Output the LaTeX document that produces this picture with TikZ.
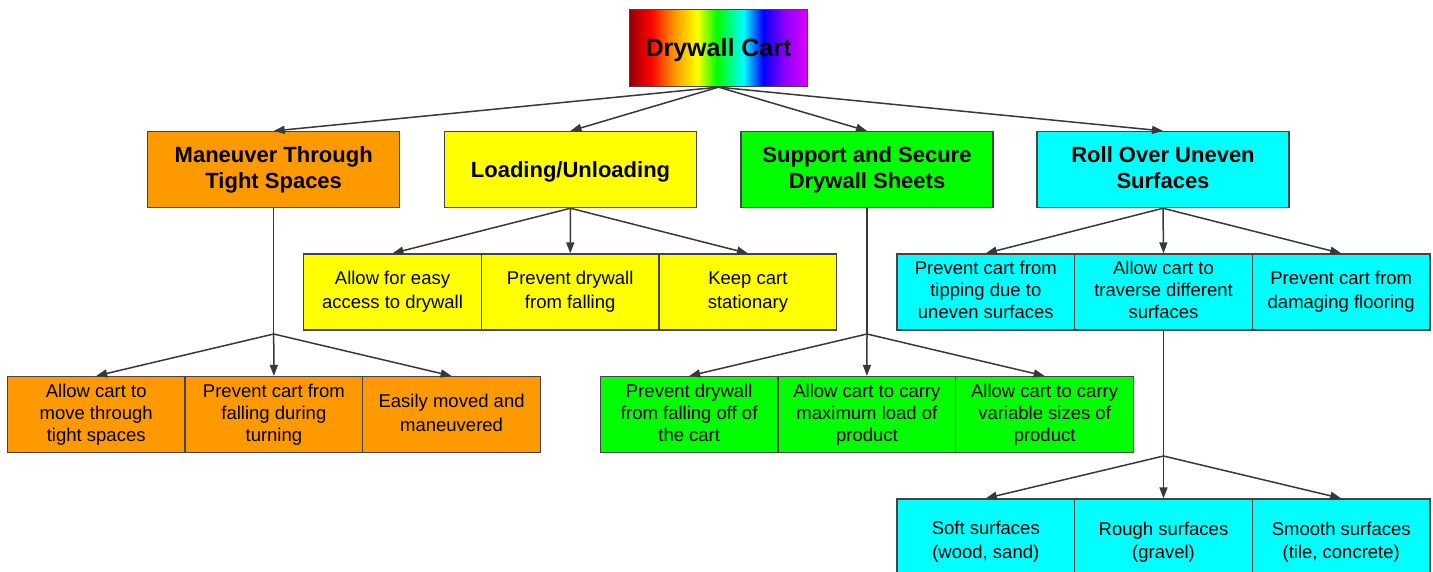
\documentclass[tikz,border=0pt]{standalone}
\usepackage{fontspec}
\setmainfont{Liberation Sans}
\usetikzlibrary{arrows.meta}
\definecolor{corange}{HTML}{FF9900}
\definecolor{cyellow}{HTML}{FFFF00}
\definecolor{cgreen}{HTML}{00FF00}
\definecolor{ccyan}{HTML}{00FFFF}
\definecolor{bordergray}{HTML}{444444}
\definecolor{linegray}{HTML}{383838}
\definecolor{rbdark}{RGB}{150,0,0}
\definecolor{rbred}{RGB}{255,0,0}
\definecolor{rborange}{RGB}{255,150,0}
\definecolor{rbyellow}{RGB}{255,255,0}
\definecolor{rbgreen}{RGB}{0,255,0}
\definecolor{rbcyan}{RGB}{0,255,255}
\definecolor{rbblue}{RGB}{0,0,255}
\definecolor{rbviolet}{RGB}{140,0,255}
\definecolor{rbmagenta}{RGB}{220,0,255}
\pgfdeclarehorizontalshading{rainbowsh}{100bp}{color(0bp)=(rbdark); color(25bp)=(rbdark); color(31bp)=(rbred); color(37.5bp)=(rborange); color(44bp)=(rbyellow); color(49.5bp)=(rbgreen); color(57bp)=(rbcyan); color(62.5bp)=(rbblue); color(68.5bp)=(rbviolet); color(75bp)=(rbmagenta); color(100bp)=(rbmagenta)}
\tikzset{
  box/.style={draw=bordergray, line width=1.3pt, minimum height=76pt, inner sep=0pt, align=center, text=black},
  struts/.style 2 args={execute at begin node={\vrule width 0pt height #1 depth 0pt},
    execute at end node={\vrule width 0pt height 0pt depth #2}},
  topbox/.style={box, minimum width=178pt, minimum height=77pt, shading=rainbowsh,
    font=\fontsize{25}{30}\selectfont\bfseries, struts={22.63pt}{5.3pt}},
  lone/.style={box, minimum width=252pt, font=\fontsize{22}{26}\selectfont\bfseries, struts={19.91pt}{4.66pt}},
  ltwo/.style={box, minimum width=177.7pt, font=\fontsize{18.5}{23.5}\selectfont, struts={16.74pt}{3.92pt}},
  lthree/.style={ltwo, font=\fontsize{18.5}{22}\selectfont},
  link/.style={draw=linegray, line width=1.5pt},
  conn/.style={link, -{Triangle[length=11pt,width=8pt]}}
}
\begin{document}
\begin{tikzpicture}[x=1pt,y=-1pt]
\useasboundingbox (0,0) rectangle (1433,571);
% root
\node[topbox] (root) at (718.5,48) {Drywall Cart};
% level 1
\node[lone, fill=corange] (man) at (273.7,169.6) {Maneuver Through\\Tight Spaces};
\node[lone, fill=cyellow] (load) at (570.5,169.6) {Loading/Unloading};
\node[lone, fill=cgreen] (sup) at (867,169.6) {Support and Secure\\Drywall Sheets};
\node[lone, fill=ccyan] (roll) at (1163,169.6) {Roll Over Uneven\\Surfaces};
% yellow children
\node[ltwo, fill=cyellow] (y1) at (392.5,292) {Allow for easy\\access to drywall};
\node[ltwo, fill=cyellow] (y2) at (570.2,292) {Prevent drywall\\from falling};
\node[ltwo, fill=cyellow] (y3) at (747.9,292) {Keep cart\\stationary};
% orange children
\node[lthree, fill=corange] (o1) at (96.2,414.6) {Allow cart to\\move through\\tight spaces};
\node[lthree, fill=corange] (o2) at (273.9,414.6) {Prevent cart from\\falling during\\turning};
\node[ltwo, fill=corange] (o3) at (451.6,414.6) {Easily moved and\\maneuvered};
% green children
\node[lthree, fill=cgreen] (g1) at (689.2,414.6) {Prevent drywall\\from falling off of\\the cart};
\node[lthree, fill=cgreen] (g2) at (866.9,414.6) {Allow cart to carry\\maximum load of\\product};
\node[lthree, fill=cgreen] (g3) at (1044.6,414.6) {Allow cart to carry\\variable sizes of\\product};
% cyan children
\node[lthree, fill=ccyan] (c1) at (985.8,292) {Prevent cart from\\tipping due to\\uneven surfaces};
\node[lthree, fill=ccyan] (c2) at (1163.5,292) {Allow cart to\\traverse different\\surfaces};
\node[ltwo, fill=ccyan] (c3) at (1341.2,292) {Prevent cart from\\damaging flooring};
% cyan grandchildren
\node[ltwo, fill=ccyan, minimum height=86pt] (s1) at (985.8,542) {Soft surfaces\\(wood, sand)};
\node[ltwo, fill=ccyan, minimum height=86pt] (s2) at (1163.5,542) {Rough surfaces\\(gravel)};
\node[ltwo, fill=ccyan, minimum height=86pt] (s3) at (1341.2,542) {Smooth surfaces\\(tile, concrete)};
% junctions
\coordinate (jo) at (273.7,334);
\coordinate (jg) at (867,334);
\coordinate (jc) at (1163.5,456);
% connectors
\draw[conn] (root.south) -- (man.north);
\draw[conn] (root.south) -- (load.north);
\draw[conn] (root.south) -- (sup.north);
\draw[conn] (root.south) -- (roll.north);
\draw[conn] (load.south) -- (y1.north);
\draw[conn] (load.south) -- (y2.north);
\draw[conn] (load.south) -- (y3.north);
\draw[link] (man.south) -- (jo);
\draw[conn] (jo) -- (o1.north);
\draw[conn] (jo) -- (o2.north);
\draw[conn] (jo) -- (o3.north);
\draw[link] (sup.south) -- (jg);
\draw[conn] (jg) -- (g1.north);
\draw[conn] (jg) -- (g2.north);
\draw[conn] (jg) -- (g3.north);
\draw[conn] (roll.south) -- (c1.north);
\draw[conn] (roll.south) -- (c2.north);
\draw[conn] (roll.south) -- (c3.north);
\draw[link] (c2.south) -- (jc);
\draw[conn] (jc) -- (s1.north);
\draw[conn] (jc) -- (s2.north);
\draw[conn] (jc) -- (s3.north);
\end{tikzpicture}
\end{document}
